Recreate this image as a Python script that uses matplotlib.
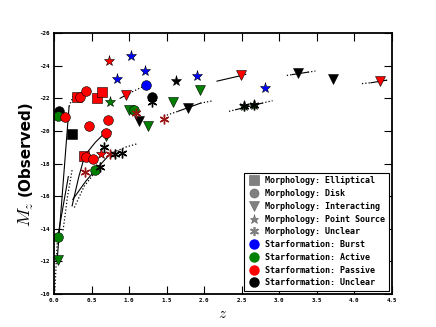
import matplotlib
matplotlib.use("Agg")
import matplotlib.pyplot as plt
from matplotlib.lines import Line2D

plt.rcParams["mathtext.fontset"] = "cm"
plt.rcParams["axes.unicode_minus"] = False

# ---- galaxies: redshift, observed magnitude, morphology marker, starformation colour ----
DR = "#9a1515"
gal_z = [0.07, 0.05, 0.15, 0.24, 0.31, 0.35, 0.42, 0.57, 0.64, 0.73,
         1.03, 0.84, 1.21, 1.22, 1.30, 1.31, 1.62, 1.91, 1.94, 1.59,
         0.96, 0.75, 1.00, 1.06, 1.09, 1.13, 1.25, 1.47, 1.78, 0.72,
         0.46, 0.69, 0.69, 0.66, 0.63, 0.75, 0.81, 0.91, 0.40, 0.42,
         0.52, 0.55, 0.61, 0.41, 0.05, 0.05, 2.49, 3.25, 3.71, 4.34,
         2.81, 2.53, 2.53, 2.66, 2.66]
gal_m = [-21.2, -20.9, -20.85, -19.8, -22.07, -22.05, -22.45, -22.0, -22.4, -24.3,
         -24.6, -23.2, -23.7, -22.8, -22.1, -21.77, -23.05, -23.35, -22.5, -21.8,
         -22.2, -21.8, -21.25, -21.3, -21.1, -20.6, -20.3, -20.7, -21.4, -20.66,
         -20.3, -19.7, -19.9, -19.0, -18.6, -18.6, -18.6, -18.65, -18.45, -18.4,
         -18.27, -17.6, -17.8, -17.45, -13.5, -12.1, -23.4, -23.55, -23.2, -23.05,
         -22.6, -21.5, -21.5, -21.6, -21.6]
gal_shape = ["o", "o", "o", "s", "s", "o", "o", "s", "s", "*",
             "*", "*", "*", "o", "o", "ast", "*", "*", "v", "v",
             "v", "*", "v", "o", "ast", "v", "v", "ast", "v", "o",
             "o", "v", "o", "ast", "*", "ast", "ast", "ast", "s", "o",
             "o", "o", "ast", "ast", "o", "v", "v", "v", "v", "v",
             "*", "*", "ast", "*", "ast"]
gal_col = ["k", "g", "r", "k", "r", "r", "r", "r", "r", "r",
           "b", "b", "b", "b", "k", "k", "k", "b", "g", "g",
           "r", "g", "g", "g", DR, "k", "g", DR, "k", "r",
           "r", "g", "r", "k", "r", DR, "k", "k", "r", "r",
           "r", "g", "k", DR, "g", "g", "r", "k", "k", "r",
           "b", "g", "k", "g", "k"]

# ---- redshift tracks: solid (likely range) and dotted (extended range) ----
solid_tracks = [
    ([0.04, 0.20], [-12.0, -21.5]),
    ([0.045, 0.19], [-13.4, -17.2]),
    ([0.24, 0.33, 0.41, 0.55, 0.68], [-15.4, -17.2, -18.5, -19.3, -19.9]),
    ([0.25, 0.42, 0.55, 0.75], [-15.8, -16.9, -17.6, -18.6]),
    ([0.55, 0.66], [-21.9, -22.55]),
    ([0.88, 1.00], [-22.0, -22.3]),
    ([1.65, 1.95], [-21.2, -21.7]),
    ([2.17, 2.50], [-23.05, -23.4]),
    ([3.17, 3.38], [-23.45, -23.6]),
    ([4.22, 4.42], [-22.95, -23.1]),
    ([2.42, 2.77], [-21.3, -21.7]),
]
dotted_tracks = [
    ([0.20, 0.27], [-21.5, -22.3]),
    ([0.01, 0.045], [-10.2, -13.4]),
    ([0.12, 0.18, 0.24], [-13.9, -16.0, -17.6]),
    ([0.27, 0.40, 0.52, 0.62], [-15.3, -16.6, -17.3, -17.9]),
    ([0.75, 0.95, 1.10], [-18.6, -19.0, -19.2]),
    ([1.00, 1.22], [-22.3, -22.8]),
    ([1.46, 1.65], [-20.9, -21.2]),
    ([1.95, 2.12], [-21.7, -21.85]),
    ([2.50, 2.58], [-23.4, -23.5]),
    ([3.10, 3.17], [-23.4, -23.45]),
    ([3.38, 3.48], [-23.6, -23.67]),
    ([4.10, 4.22], [-22.9, -22.95]),
    ([4.42, 4.46], [-23.1, -23.12]),
    ([2.33, 2.42], [-21.2, -21.3]),
    ([2.77, 2.91], [-21.7, -21.85]),
]

morph_labels = ["Morphology: Elliptical", "Morphology: Disk", "Morphology: Interacting",
                "Morphology: Point Source", "Morphology: Unclear"]
morph_shapes = ["s", "o", "v", "*", "ast"]
sf_labels = ["Starformation: Burst", "Starformation: Active",
             "Starformation: Passive", "Starformation: Unclear"]
sf_cols = ["b", "g", "r", "k"]

AST = (6, 2, 0)
SIZE = {"o": 7, "s": 7, "v": 7.5, "*": 8, "ast": 7}

fig = plt.figure(figsize=(4.36, 3.27), dpi=100)
ax = fig.add_axes([0.124, 0.101, 0.775, 0.798])

for xs, ys in solid_tracks:
    ax.plot(xs, ys, "-", color="k", lw=0.8, zorder=1)
for xs, ys in dotted_tracks:
    ax.plot(xs, ys, ":", color="k", lw=0.9, zorder=1)

for z, m, s, c in zip(gal_z, gal_m, gal_shape, gal_col):
    if s == "ast":
        ax.plot(z, m, marker=AST, ms=SIZE[s], mec=c, mew=1.0, ls="none", zorder=3)
    else:
        ax.plot(z, m, marker=s, ms=SIZE[s], mfc=c, mec="k", mew=0.4, ls="none", zorder=2)

ax.set_xlim(0, 4.5)
ax.set_ylim(-10, -26)
ax.set_xticks([0, 0.5, 1.0, 1.5, 2.0, 2.5, 3.0, 3.5, 4.0, 4.5])
ax.set_yticks(range(-10, -27, -2))
ax.tick_params(direction="in", length=6, width=0.8, top=True, right=True, pad=3)
for lab in ax.get_xticklabels() + ax.get_yticklabels():
    lab.set_family("DejaVu Sans Mono")
    lab.set_weight("bold")
    lab.set_fontsize(4.2)
for sp in ax.spines.values():
    sp.set_linewidth(1.3)

ax.set_xlabel("$z$", fontsize=11, labelpad=2)
# y label built from two pieces: math M_z and bold "(Observed)"
fig.text(0.060, 0.345, "$M_z$", rotation=90, fontsize=13, ha="center", va="center")
fig.text(0.057, 0.548, "(Observed)", rotation=90, fontsize=11, fontweight="bold",
         ha="center", va="center")

handles = []
for lab, s in zip(morph_labels, morph_shapes):
    if s == "ast":
        h = Line2D([], [], marker=AST, ms=6.5, mec="#808080", mew=1.2, ls="none", label=lab)
    else:
        h = Line2D([], [], marker=s, ms=6.5, mfc="#808080", mec="#606060", mew=0.4, ls="none", label=lab)
    handles.append(h)
for lab, c in zip(sf_labels, sf_cols):
    handles.append(Line2D([], [], marker="o", ms=6.5, mfc=c, mec=c, ls="none", label=lab))

leg = ax.legend(handles=handles, loc="lower right", numpoints=1, fancybox=False,
                framealpha=1, edgecolor="k", borderaxespad=0.4, handletextpad=0.6,
                labelspacing=0.45, borderpad=0.4, handlelength=1.5,
                prop={"family": "DejaVu Sans Mono", "weight": "bold", "size": 6})
leg.get_frame().set_linewidth(0.8)

fig.savefig("out.png", dpi=100)
